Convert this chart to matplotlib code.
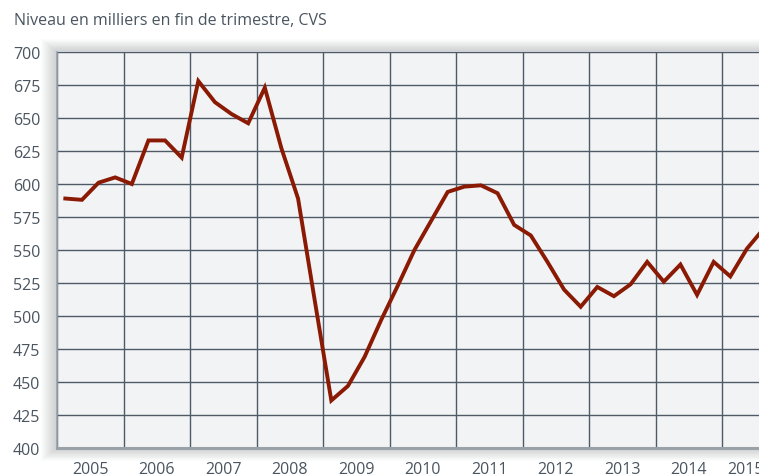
import matplotlib.pyplot as plt
import matplotlib.ticker as mticker
from matplotlib.patches import Rectangle

# quarterly level, thousands, end of quarter (2005Q1 .. 2015Q3)
start_year = 2005
values = [
    589, 588, 601, 605,   # 2005
    600, 633, 633, 620,   # 2006
    678, 662, 653, 646,   # 2007
    673, 627, 589, 512,   # 2008
    436, 447, 469, 497,   # 2009
    523, 550, 572, 594,   # 2010
    598, 599, 593, 569,   # 2011
    561, 541, 520, 507,   # 2012
    522, 515, 524, 541,   # 2013
    526, 539, 516, 541,   # 2014
    530, 551, 566,        # 2015
]
years = list(range(2005, 2016))
y_ticks = list(range(400, 701, 25))
title = "Niveau en milliers en fin de trimestre, CVS"

x = [start_year + (i + 0.5) / 4 for i in range(len(values))]

plt.rcParams['font.family'] = ['Open Sans', 'DejaVu Sans']

fig = plt.figure(figsize=(7.59, 4.77), dpi=100)
fig.patch.set_facecolor('white')

left, bottom, width, height = 57 / 759, 28 / 477, 1 - 57 / 759, 396 / 477

# soft drop shadow behind the plot area
for k in range(16):
    d = (16 - k) / 759
    dv = (16 - k) / 477
    fig.patches.append(Rectangle((left - d, bottom - dv * 0.8), width + 2 * d, height + dv * 1.6,
                                 transform=fig.transFigure, facecolor='#7d848b',
                                 alpha=0.025, edgecolor='none', zorder=-5))

ax = fig.add_axes([left, bottom, width, height])
ax.set_zorder(2)
ax.set_facecolor('#f2f3f5')

ax.plot(x, values, color='#8a1a04', linewidth=2.8, solid_joinstyle='miter', zorder=3)

ax.set_xlim(2005, 2005 + (759 - 57) / 66.5)
ax.set_ylim(400, 700)

# year labels sit mid-year; the last one is nudged left like in the source
label_pos = [y + 0.5 for y in years]
label_pos[-1] -= 0.14
ax.xaxis.set_major_locator(mticker.FixedLocator(years))
ax.xaxis.set_minor_locator(mticker.FixedLocator(label_pos))
ax.xaxis.set_major_formatter(mticker.NullFormatter())
ax.xaxis.set_minor_formatter(mticker.FixedFormatter([str(y) for y in years]))
ax.set_yticks(y_ticks)

ax.tick_params(axis='x', which='both', length=0, pad=9.5, labelsize=11.5, colors='#4a5560')
ax.tick_params(axis='y', length=0, pad=12, labelsize=11.5, colors='#4a5560')

ax.grid(True, which='major', color='#4e5b67', linewidth=1.0)
ax.set_axisbelow(True)

for side in ['top', 'right']:
    ax.spines[side].set_visible(False)
ax.spines['left'].set_color('#9aa2a9')
ax.spines['left'].set_linewidth(1.2)
ax.spines['bottom'].set_color('#9aa2a9')
ax.spines['bottom'].set_linewidth(2.2)

fig.text(14 / 759, 1 - 21 / 477, title, fontsize=11.5, color='#4a5560', va='center', ha='left')

plt.savefig('out.png', dpi=100)
